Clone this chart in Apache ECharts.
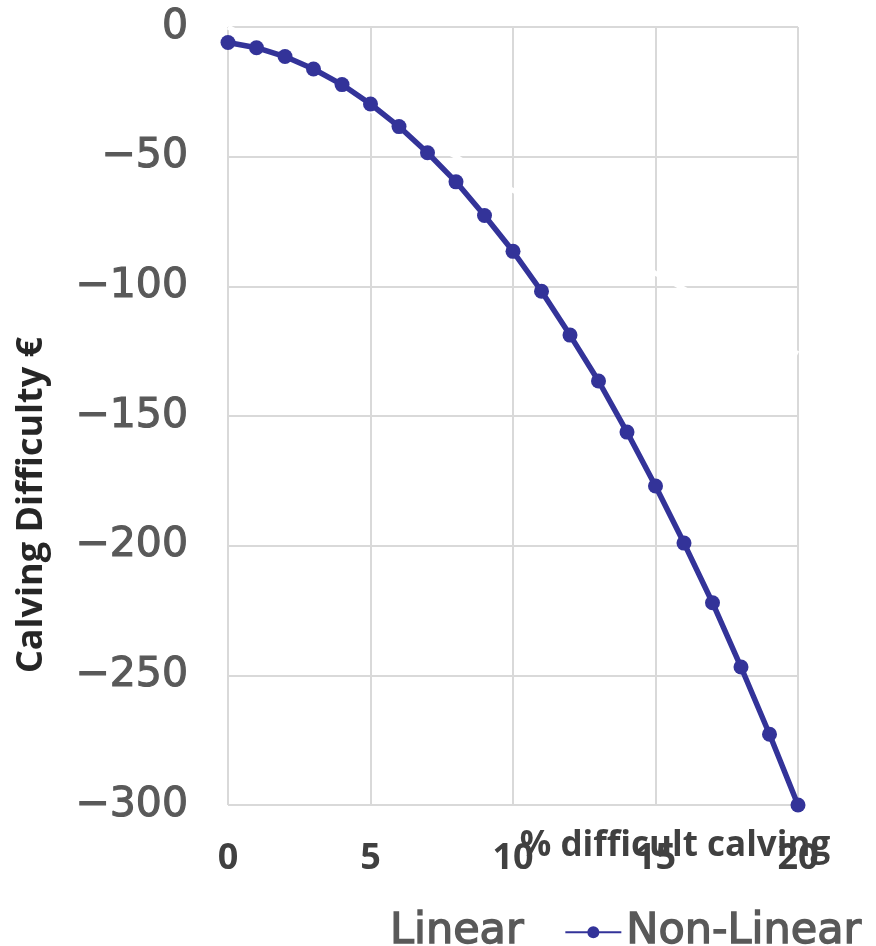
<!DOCTYPE html>
<html><head><meta charset="utf-8">
<script src="https://cdn.jsdelivr.net/npm/echarts@6/dist/echarts.min.js"></script>
<style>html,body{margin:0;padding:0;background:#fff}#c{width:876px;height:946px}</style>
</head><body><div id="c"></div>
<script>
const xValues = [0,1,2,3,4,5,6,7,8,9,10,11,12,13,14,15,16,17,18,19,20];
const linearValues = [0,-6,-13,-19,-25,-32,-38,-44,-50,-57,-63,-69,-76,-82,-88,-95,-101,-107,-113,-120,-126];
const nonLinearValues = [-6,-8,-11.4,-16.2,-22.2,-29.7,-38.4,-48.5,-59.7,-72.7,-86.5,-101.9,-118.8,-136.5,-156.2,-177,-199,-222,-246.8,-272.7,-300];
const seriesNames = ['Linear','Non-Linear'];
const xTicks = {min:0,max:20,interval:5};
const yTicks = {min:-300,max:0,interval:50};

const chart = echarts.init(document.getElementById('c'), null, {renderer:'canvas'});
const grid = '#d9d9d9';
const dv = "'DejaVu Sans'";
const cal = "'Open Sans'";
chart.setOption({
  animation:false,
  backgroundColor:'#fff',
  grid:{left:228,right:78,top:27,bottom:141,outerBoundsMode:'none',containLabel:false},
  legend:{
    data:seriesNames,
    left:323, top:905,
    itemWidth:56, itemHeight:15, itemGap:40,
    textStyle:{fontFamily:dv,fontSize:43,color:'#595959',textBorderColor:'#595959',textBorderWidth:1.4}
  },
  xAxis:{
    type:'value', min:xTicks.min, max:xTicks.max, interval:xTicks.interval,
    axisLine:{show:false,onZero:false}, axisTick:{show:false},
    splitLine:{show:true,lineStyle:{color:grid,width:2}},
    axisLabel:{margin:36,fontFamily:cal,fontWeight:'bold',fontSize:36,color:'#404040'},
    name:'% difficult calving', nameLocation:'middle', nameGap:24, nameMoveOverlap:false,
    nameTextStyle:{fontFamily:cal,fontWeight:'bold',fontSize:35,color:'#404040',verticalAlign:'top',padding:[0,0,0,324]}
  },
  yAxis:{
    type:'value', min:yTicks.min, max:yTicks.max, interval:yTicks.interval,
    axisLine:{show:false,onZero:false}, axisTick:{show:false},
    splitLine:{show:true,lineStyle:{color:grid,width:2}},
    axisLabel:{margin:40,fontFamily:dv,fontSize:41,color:'#595959',textBorderColor:'#595959',textBorderWidth:1.1,
      formatter:v=>String(v).replace('-','\u2212')},
    name:'Calving Difficulty €', nameLocation:'middle', nameGap:178,
    nameTextStyle:{fontFamily:cal,fontWeight:'bold',fontSize:36,color:'#262626',padding:[0,178,0,0]}
  },
  series:[
    {name:seriesNames[0],type:'line',data:xValues.map((x,i)=>[x,linearValues[i]]),
     showSymbol:false,symbol:'none',lineStyle:{color:'#ffffff',width:5},itemStyle:{color:'#ffffff'},z:2},
    {name:seriesNames[1],type:'line',data:xValues.map((x,i)=>[x,nonLinearValues[i]]),
     symbol:'circle',symbolSize:15,lineStyle:{color:'#333399',width:5.5},itemStyle:{color:'#333399'},z:3}
  ]
});
</script></body></html>
